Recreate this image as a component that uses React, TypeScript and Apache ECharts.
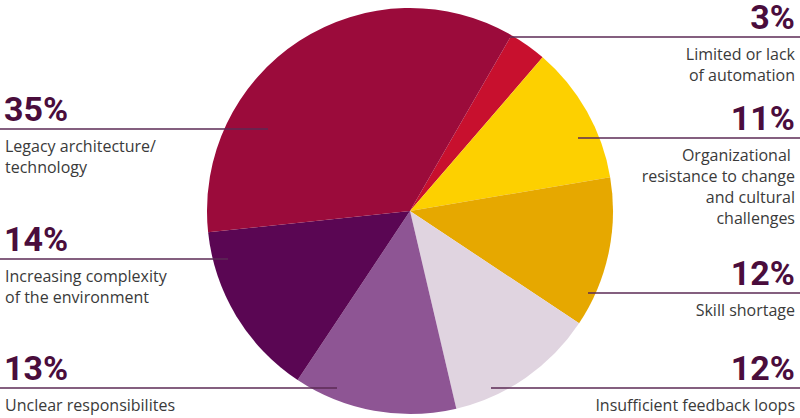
import React, { useEffect, useRef } from 'react';
import * as echarts from 'echarts';

// 数据（按顺时针顺序，从顶部右侧的小扇区开始）
const categories = [
  'Limited or lack\nof automation',
  'Organizational \nresistance to change\nand cultural\nchallenges',
  'Skill shortage',
  'Insufficient feedback loops',
  'Unclear responsibilites',
  'Increasing complexity\nof the environment',
  'Legacy architecture/\ntechnology',
];
const values = [3, 11, 12, 12, 13, 14, 35];
const colors = ['#c8102e', '#fdd000', '#e6a800', '#e0d4e0', '#8e5594', '#5a0653', '#9b0b3b'];

// 标注布局
const labelSide = ['right', 'right', 'right', 'right', 'left', 'left', 'left'];
const labelLineY = [37, 138, 293, 388, 388, 259, 129];
const labelLineX = [510, 578, 588, 491, 337, 228, 268];

const W = 800;
const LINE_COLOR = '#5b2a55';
const PCT_COLOR = '#4a0d3c';
const TEXT_COLOR = '#3a3a3a';

const App: React.FC = () => {
  const chartRef = useRef<HTMLDivElement>(null);

  useEffect(() => {
    if (!chartRef.current) return;
    const chart = echarts.init(chartRef.current, undefined, { renderer: 'svg' });

    const graphics: any[] = [];
    values.forEach((v, i) => {
      const right = labelSide[i] === 'right';
      const y = labelLineY[i];
      graphics.push({
        type: 'line',
        silent: true,
        shape: { x1: right ? labelLineX[i] : 0, y1: y, x2: right ? W : labelLineX[i], y2: y },
        style: { stroke: LINE_COLOR, lineWidth: 1.5 },
        z: 10,
      });
      graphics.push({
        type: 'text',
        silent: true,
        x: right ? 795 : 4,
        y: y - 20,
        style: {
          text: v + '%',
          fontFamily: 'Roboto',
          fontWeight: 'bold',
          fontSize: 34,
          lineHeight: 28,
          fill: PCT_COLOR,
          align: right ? 'right' : 'left',
          verticalAlign: 'middle',
        },
        z: 10,
      });
      graphics.push({
        type: 'text',
        silent: true,
        x: right ? 795 : 5,
        y: y + 6,
        style: {
          text: categories[i],
          fontFamily: 'Open Sans',
          fontSize: 16,
          lineHeight: 21,
          fill: TEXT_COLOR,
          align: right ? 'right' : 'left',
          verticalAlign: 'top',
        },
        z: 10,
      });
    });

    const option = {
      animation: false,
      graphic: graphics,
      series: [
        {
          type: 'pie',
          center: [410, 211],
          radius: 203,
          startAngle: 60,
          clockwise: true,
          silent: true,
          label: { show: false },
          labelLine: { show: false },
          itemStyle: { borderWidth: 0 },
          data: values.map((v, i) => ({
            name: categories[i],
            value: v,
            itemStyle: { color: colors[i] },
          })),
        },
      ],
    };

    chart.setOption(option);
    return () => {
      chart.dispose();
    };
  }, []);

  return (
    <div
      ref={chartRef}
      style={{ position: 'absolute', left: 0, top: 0, width: '800px', height: '418px', background: '#fff' }}
    ></div>
  );
};

export default App;
